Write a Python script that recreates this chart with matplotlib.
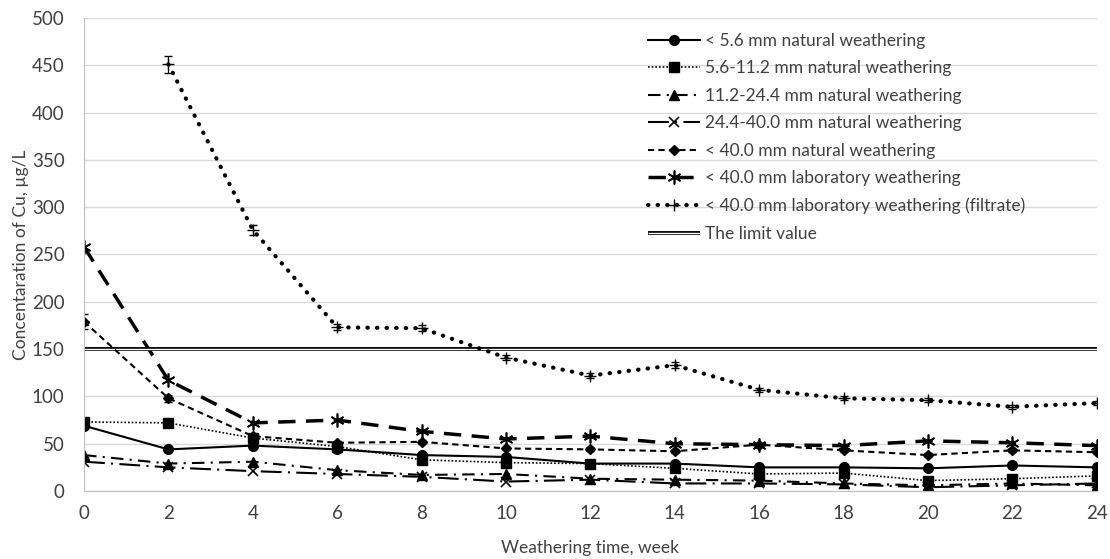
import numpy as np
import matplotlib.pyplot as plt

plt.rcParams['font.family'] = ['Lato', 'DejaVu Sans']

# dados
semanas = [0, 2, 4, 6, 8, 10, 12, 14, 16, 18, 20, 22, 24]
cu_56 = [69, 44, 48, 44, 38, 36, 29, 29, 25, 25, 24, 27, 25]
cu_56_112 = [73, 72, 56, 47, 33, 30, 29, 24, 18, 19, 11, 13, 16]
cu_112_244 = [38, 29, 31, 22, 17, 18, 13, 12, 11, 8, 6, 8, 6]
cu_244_400 = [31, 25, 21, 18, 15, 10, 12, 8, 8, 7, 4, 6, 8]
cu_400_nat = [179, 98, 58, 51, 52, 45, 44, 42, 49, 43, 38, 43, 41]
cu_400_lab = [258, 117, 72, 75, 63, 55, 58, 50, 49, 48, 53, 51, 48]
semanas_filt = [2, 4, 6, 8, 10, 12, 14, 16, 18, 20, 22, 24]
cu_400_filt = [451, 276, 173, 172, 141, 122, 133, 107, 98, 96, 89, 93]
erro_filt = [9, 5, 3, 3, 3, 3, 3, 2, 2, 2, 2, 2]
erro_nat = [8, 4, 2, 2, 2, 2, 2, 2, 2, 2, 2, 2, 2]
limite = 150

fig, ax = plt.subplots(figsize=(11.1, 5.59), dpi=100)
fig.subplots_adjust(left=0.0757, right=0.988, bottom=0.1216, top=0.968)

k = 'black'
l1, = ax.plot(semanas, cu_56, color=k, lw=1.5, ls='-', marker='o', ms=7)
l2, = ax.plot(semanas, cu_56_112, color=k, lw=1.2, ls=(0, (1, 1.2)), marker='s', ms=7)
l3, = ax.plot(semanas, cu_112_244, color=k, lw=1.5, ls=(0, (6, 3, 1, 3)), marker='^', ms=7)
l4, = ax.plot(semanas, cu_244_400, color=k, lw=1.5, ls=(0, (10, 3, 1, 3)), marker='x', ms=7,
              mew=1.2)
e5 = ax.errorbar(semanas, cu_400_nat, yerr=erro_nat, color=k, lw=1.5, ls=(0, (3, 2)),
                 marker='D', ms=5, elinewidth=0.8, capsize=3)
l6, = ax.plot(semanas, cu_400_lab, color=k, lw=2.5, ls=(0, (5, 3)), marker=(6, 2, 0), ms=10,
              mew=1.2)
e7 = ax.errorbar(semanas_filt, cu_400_filt, yerr=erro_filt, color=k, lw=3, ls=(0, (0.1, 2.2)),
                 dash_capstyle='round', marker='+', ms=9, mew=1.0, elinewidth=0.8, capsize=3)

# linha dupla do limite
l8, = ax.plot([0, 24], [limite, limite], color=k, lw=2.8, solid_capstyle='butt')
l8b, = ax.plot([0, 24], [limite, limite], color='white', lw=1.0, solid_capstyle='butt')

ax.set_xlim(0, 24)
ax.set_ylim(0, 500)
ax.set_xticks(range(0, 25, 2))
ax.set_yticks(range(0, 501, 50))
ax.grid(True, 'major', 'y', color='#d9d9d9', lw=1)
ax.set_axisbelow(True)
for s in ['top', 'right']:
    ax.spines[s].set_visible(False)
for s in ['left', 'bottom']:
    ax.spines[s].set_color('#bfbfbf')
ax.tick_params(axis='y', length=0, labelsize=13.5, colors='#404040', pad=14)
ax.tick_params(axis='x', length=0, labelsize=13.5, colors='#404040', pad=10)
ax.set_xlabel('Weathering time, week', fontsize=12.5, color='#404040', labelpad=13)
ax.set_ylabel('Concentaration of Cu, µg/L', fontsize=12.5, color='#404040', labelpad=2)

handles = [l1, l2, l3, l4, e5[0], l6, e7[0], (l8, l8b)]
labels = ['< 5.6 mm natural weathering', '5.6-11.2 mm natural weathering',
          '11.2-24.4 mm natural weathering', '24.4-40.0 mm natural weathering',
          '< 40.0 mm natural weathering', '< 40.0 mm laboratory weathering',
          '< 40.0 mm laboratory weathering (filtrate)', 'The limit value']
leg = ax.legend(handles, labels, loc='upper left', bbox_to_anchor=(0.557, 0.968),
                frameon=False, fontsize=12.5, handlelength=3.0, labelspacing=0.66,
                handletextpad=0.3, borderpad=0, borderaxespad=0)
for t in leg.get_texts():
    t.set_color('#404040')

plt.savefig('out.png', dpi=100)
